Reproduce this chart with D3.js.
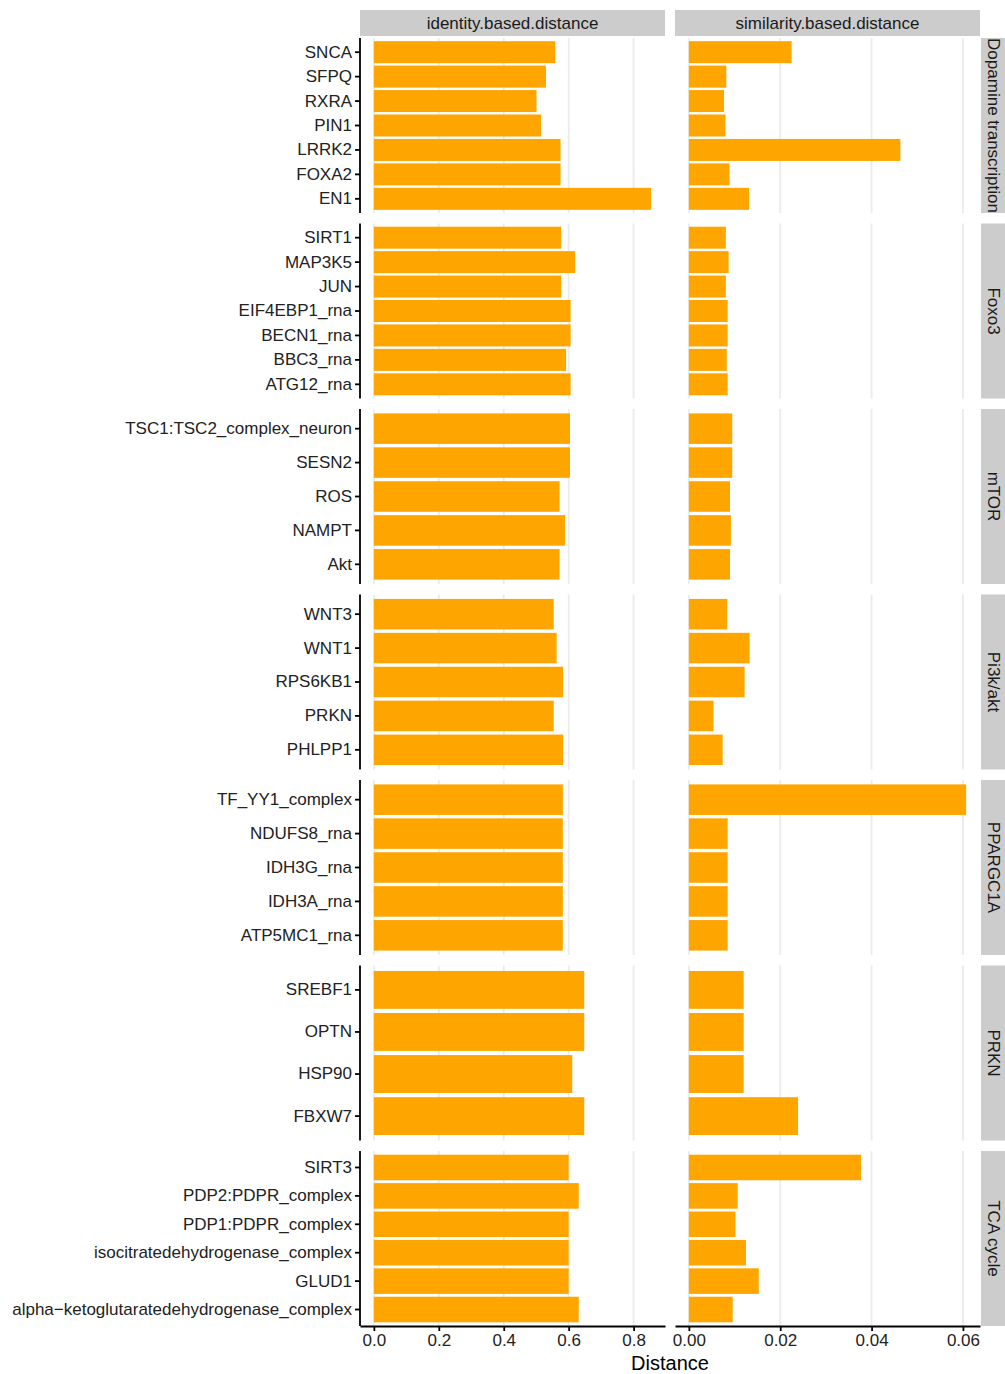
<!DOCTYPE html>
<html>
<head>
<meta charset="utf-8">
<script src="https://cdn.jsdelivr.net/npm/d3@7"></script>
<style>
  html, body { margin: 0; padding: 0; background: #fff; }
  svg { display: block; font-family: "Liberation Sans", Arial, Helvetica, sans-serif; }
</style>
</head>
<body>
<svg id="chart" width="1005" height="1374"></svg>
<script>
// Pathway groups (facet rows) and distance measures (facet columns)
const groups = ["Dopamine transcription", "Foxo3", "mTOR", "Pi3k/akt", "PPARGC1A", "PRKN", "TCA cycle"];
const measures = ["identity.based.distance", "similarity.based.distance"];

// Members of each group, listed top to bottom
const genes = [
  ["SNCA", "SFPQ", "RXRA", "PIN1", "LRRK2", "FOXA2", "EN1"],
  ["SIRT1", "MAP3K5", "JUN", "EIF4EBP1_rna", "BECN1_rna", "BBC3_rna", "ATG12_rna"],
  ["TSC1:TSC2_complex_neuron", "SESN2", "ROS", "NAMPT", "Akt"],
  ["WNT3", "WNT1", "RPS6KB1", "PRKN", "PHLPP1"],
  ["TF_YY1_complex", "NDUFS8_rna", "IDH3G_rna", "IDH3A_rna", "ATP5MC1_rna"],
  ["SREBF1", "OPTN", "HSP90", "FBXW7"],
  ["SIRT3", "PDP2:PDPR_complex", "PDP1:PDPR_complex", "isocitratedehydrogenase_complex", "GLUD1", "alpha\u2212ketoglutaratedehydrogenase_complex"]
];

// Identity-based distance per member
const identityDistance = [
  [0.559, 0.530, 0.501, 0.515, 0.575, 0.575, 0.854],
  [0.577, 0.620, 0.577, 0.606, 0.606, 0.592, 0.606],
  [0.604, 0.604, 0.572, 0.589, 0.572],
  [0.554, 0.563, 0.583, 0.554, 0.583],
  [0.582, 0.582, 0.582, 0.582, 0.582],
  [0.648, 0.648, 0.611, 0.648],
  [0.600, 0.631, 0.600, 0.600, 0.600, 0.631]
];

// Similarity-based distance per member
const similarityDistance = [
  [0.0225, 0.0082, 0.0077, 0.0080, 0.0463, 0.0089, 0.0132],
  [0.0081, 0.0087, 0.0081, 0.0085, 0.0085, 0.0083, 0.0085],
  [0.0095, 0.0095, 0.0090, 0.0092, 0.0090],
  [0.0084, 0.0133, 0.0122, 0.0054, 0.0074],
  [0.0607, 0.0085, 0.0085, 0.0085, 0.0085],
  [0.0120, 0.0120, 0.0120, 0.0239],
  [0.0377, 0.0107, 0.0102, 0.0125, 0.0153, 0.0096]
];

// Axis ticks for each column
const identityTicks = [0, 0.2, 0.4, 0.6, 0.8];
const similarityTicks = [0, 0.02, 0.04, 0.06];
const xTitle = "Distance";

// ---- layout ----
const svg = d3.select("#chart");
const panelLeft = [360, 675];
const panelW = 305;
const rowTop0 = 38, rowH = 175, rowGap = 10.5;
const stripTop = 10, stripH = 26;
const rightStripX = 981, rightStripW = 26;
const barColor = "#FFA500";
const gridColor = "#EBEBEB";
const textColor = "#222222";

const columns = [
  { values: identityDistance, ticks: identityTicks, fmt: d3.format(".1f") },
  { values: similarityDistance, ticks: similarityTicks, fmt: d3.format(".2f") }
];

// Free x scale per column: data range expanded by 5% on each side
columns.forEach((col, c) => {
  const maxV = d3.max(col.values.flat());
  const pad = maxV * 0.05;
  col.x = d3.scaleLinear().domain([-pad, maxV + pad]).range([panelLeft[c], panelLeft[c] + panelW]);
});

const rowTop = i => rowTop0 + i * (rowH + rowGap);
const lastBottom = rowTop(groups.length - 1) + rowH;

// Column strips
measures.forEach((m, c) => {
  svg.append("rect")
    .attr("x", panelLeft[c]).attr("y", stripTop)
    .attr("width", panelW).attr("height", stripH)
    .attr("fill", "#CCCCCC");
  svg.append("text")
    .attr("x", panelLeft[c] + panelW / 2).attr("y", stripTop + stripH / 2)
    .attr("dy", "0.35em").attr("text-anchor", "middle")
    .attr("font-size", 17).attr("fill", "#1A1A1A")
    .text(m);
});

groups.forEach((g, r) => {
  const top = rowTop(r);
  const y = d3.scaleBand()
    .domain(genes[r])
    .range([top, top + rowH])
    .paddingInner(0.1)
    .paddingOuter(0.13);

  columns.forEach((col, c) => {
    const panel = svg.append("g");
    // vertical grid lines at major ticks
    panel.selectAll("line.grid")
      .data(col.ticks)
      .join("line")
      .attr("class", "grid")
      .attr("x1", d => col.x(d)).attr("x2", d => col.x(d))
      .attr("y1", top).attr("y2", top + rowH)
      .attr("stroke", gridColor).attr("stroke-width", 1.8);

    // bars
    panel.selectAll("rect.bar")
      .data(genes[r].map((name, i) => ({ name, v: col.values[r][i] })))
      .join("rect")
      .attr("class", "bar")
      .attr("x", col.x(0))
      .attr("y", d => y(d.name))
      .attr("width", d => col.x(d.v) - col.x(0))
      .attr("height", y.bandwidth())
      .attr("fill", barColor);
  });

  // left axis for this row
  const yAxis = svg.append("g")
    .attr("transform", `translate(${panelLeft[0]},0)`)
    .call(d3.axisLeft(y).tickSize(5).tickPadding(3).tickSizeOuter(0));
  yAxis.select(".domain").attr("stroke", "#000").attr("stroke-width", 1.8)
    .attr("d", `M0,${top}V${top + rowH}`);
  yAxis.selectAll(".tick line").attr("stroke", "#000").attr("stroke-width", 1.8);
  yAxis.selectAll(".tick text")
    .attr("font-size", 17).attr("fill", textColor)
    .attr("font-family", "Liberation Sans, Arial, sans-serif");

  // row strip on the right
  svg.append("rect")
    .attr("x", rightStripX).attr("y", top)
    .attr("width", rightStripW).attr("height", rowH)
    .attr("fill", "#CCCCCC");
  svg.append("text")
    .attr("transform", `translate(${rightStripX + rightStripW / 2},${top + rowH / 2}) rotate(90)`)
    .attr("dy", "0.35em").attr("text-anchor", "middle")
    .attr("font-size", 17).attr("fill", "#1A1A1A")
    .text(g);
});

// bottom axes
columns.forEach((col, c) => {
  const xAxis = svg.append("g")
    .attr("transform", `translate(0,${lastBottom})`)
    .call(d3.axisBottom(col.x).tickValues(col.ticks).tickFormat(col.fmt)
      .tickSize(5).tickPadding(3).tickSizeOuter(0));
  xAxis.select(".domain").attr("stroke", "#000").attr("stroke-width", 1.8);
  xAxis.selectAll(".tick line").attr("stroke", "#000").attr("stroke-width", 1.8);
  xAxis.selectAll(".tick text")
    .attr("font-size", 17).attr("fill", textColor)
    .attr("font-family", "Liberation Sans, Arial, sans-serif");
});

// x-axis title
svg.append("text")
  .attr("x", (panelLeft[0] + panelLeft[1] + panelW) / 2)
  .attr("y", 1370)
  .attr("text-anchor", "middle")
  .attr("font-size", 20).attr("fill", "#000")
  .text(xTitle);
</script>
</body>
</html>
